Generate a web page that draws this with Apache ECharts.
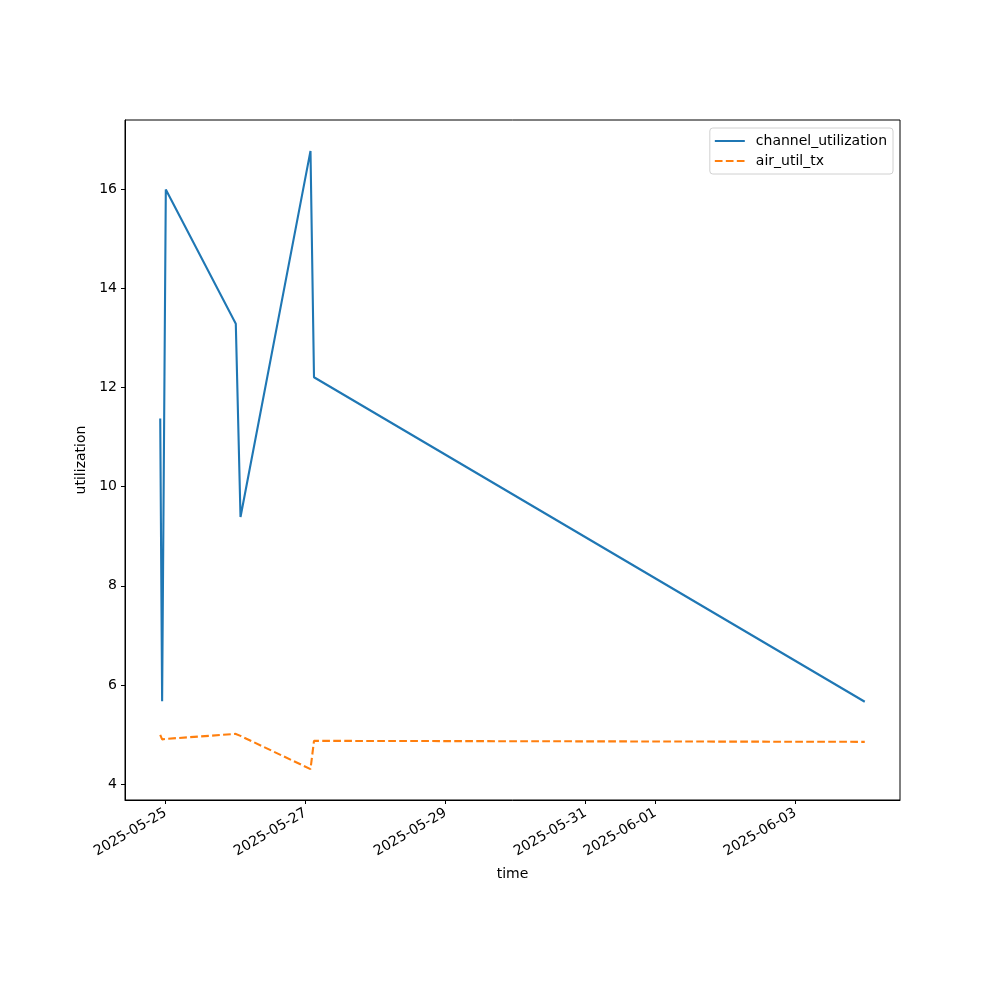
<!DOCTYPE html>
<html>
<head>
<meta charset="utf-8">
<script src="https://cdn.jsdelivr.net/npm/echarts@6/dist/echarts.min.js"></script>
<style>html,body{margin:0;padding:0;background:#fff}#c{width:1000px;height:1000px}</style>
</head>
<body>
<div id="c"></div>
<script>
// Data (UTC)
var times = [
  '2025-05-24T22:09:00Z', '2025-05-24T22:48:00Z', '2025-05-25T00:04:00Z',
  '2025-05-26T00:04:00Z', '2025-05-26T01:41:00Z', '2025-05-27T01:41:00Z',
  '2025-05-27T02:53:00Z', '2025-06-03T23:46:00Z'
];
var channelUtilization = [11.38, 5.67, 16.00, 13.29, 9.39, 16.78, 12.21, 5.66];
var airUtilTx = [4.99, 4.90, 4.91, 5.01, 4.97, 4.30, 4.87, 4.85];
var xTickDates = ['2025-05-25', '2025-05-27', '2025-05-29', '2025-05-31', '2025-06-01', '2025-06-03'];
var yTicks = [4, 6, 8, 10, 12, 14, 16];
var seriesNames = ['channel_utilization', 'air_util_tx'];

var tms = times.map(function (t) { return Date.parse(t); });
var xTickVals = xTickDates.map(function (d) { return Date.parse(d + 'T00:00:00Z'); });
var tMin = Math.min.apply(null, tms), tMax = Math.max.apply(null, tms);
var xPad = (tMax - tMin) * 0.05;
var allY = channelUtilization.concat(airUtilTx);
var yLo = Math.min.apply(null, allY), yHi = Math.max.apply(null, allY);
var yPad = (yHi - yLo) * 0.05;

function pairs(vals) { return tms.map(function (t, i) { return [t, vals[i]]; }); }
function fmtDate(v) {
  var d = new Date(v);
  var m = d.getUTCMonth() + 1, day = d.getUTCDate();
  return d.getUTCFullYear() + '-' + (m < 10 ? '0' : '') + m + '-' + (day < 10 ? '0' : '') + day;
}

var font = 'DejaVu Sans';
var chart = echarts.init(document.getElementById('c'), null, { renderer: 'canvas' });
chart.setOption({
  animation: false,
  backgroundColor: '#fff',
  textStyle: { fontFamily: font },
  grid: { left: 125, right: 100, top: 120, bottom: 200, show: true, borderColor: '#000', borderWidth: 1, backgroundColor: 'transparent' },
  legend: {
    orient: 'vertical', right: 107, top: 128,
    padding: [6, 6, 6, 4],
    itemGap: 6, itemWidth: 30, itemHeight: 14,
    backgroundColor: '#fff', borderColor: '#d0d0d0', borderWidth: 1, borderRadius: 3,
    itemStyle: { opacity: 0 },
    textStyle: { fontFamily: font, fontSize: 14, color: '#000', padding: [0, 0, 0, 6] },
    data: seriesNames
  },
  xAxis: {
    type: 'value', min: tMin - xPad, max: tMax + xPad,
    name: 'time', nameLocation: 'middle', nameGap: 67,
    nameTextStyle: { fontFamily: font, fontSize: 14, color: '#000' },
    axisLine: { show: true, lineStyle: { color: '#000', width: 1 } },
    axisTick: { show: true, inside: false, length: 4, lineStyle: { color: '#000' }, customValues: xTickVals },
    axisLabel: { show: true, rotate: 30, margin: 12, fontFamily: font, fontSize: 14, color: '#000', customValues: xTickVals, formatter: fmtDate },
    splitLine: { show: false }
  },
  yAxis: {
    type: 'value', min: yLo - yPad, max: yHi + yPad,
    name: 'utilization', nameLocation: 'middle', nameGap: 33, nameRotate: 90,
    nameTextStyle: { fontFamily: font, fontSize: 14, color: '#000' },
    axisLine: { show: true, lineStyle: { color: '#000', width: 1 } },
    axisTick: { show: true, inside: false, length: 4, lineStyle: { color: '#000' }, customValues: yTicks },
    axisLabel: { show: true, margin: 8, fontFamily: font, fontSize: 14, color: '#000', customValues: yTicks },
    splitLine: { show: false }
  },
  series: [
    {
      name: seriesNames[0], type: 'line', data: pairs(channelUtilization),
      symbol: 'none', showSymbol: false,
      lineStyle: { color: '#1f77b4', width: 2.1, type: 'solid' },
      itemStyle: { color: '#1f77b4' }
    },
    {
      name: seriesNames[1], type: 'line', data: pairs(airUtilTx),
      symbol: 'none', showSymbol: false,
      lineStyle: { color: '#ff7f0e', width: 2.1, type: [7.7, 3.3] },
      itemStyle: { color: '#ff7f0e' }
    }
  ]
});
</script>
</body>
</html>
